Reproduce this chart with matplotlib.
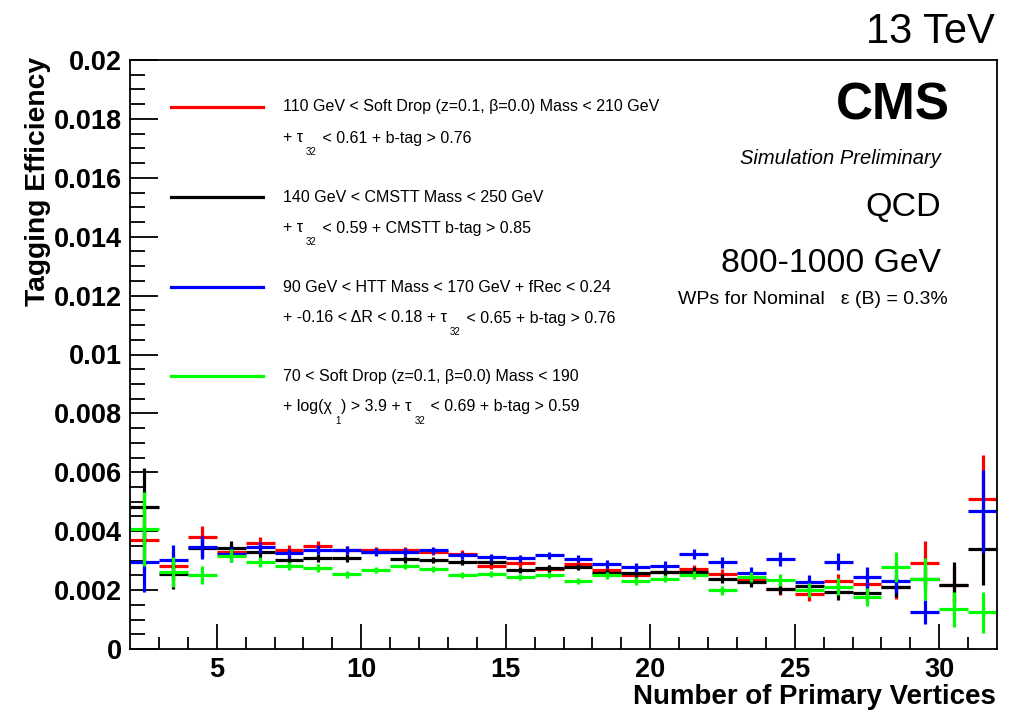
import numpy as np
import matplotlib
matplotlib.use('Agg')
import matplotlib.pyplot as plt

plt.rcParams['font.family'] = ['Liberation Sans', 'DejaVu Sans']

# ---------------------------------------------------------------------------
# DATA (bin centres 2.5 ... 31.5, width 1)
# ---------------------------------------------------------------------------
npv = np.arange(2.5, 32.0, 1.0)

eff_sd = [0.00371, 0.00281, 0.00382, 0.00330, 0.00360, 0.00337, 0.00351, 0.00336,
          0.00336, 0.00336, 0.00330, 0.00324, 0.00282, 0.00291, 0.00273, 0.00288,
          0.00268, 0.00252, 0.00260, 0.00273, 0.00254, 0.00234, 0.00205, 0.00186,
          0.00231, 0.00220, 0.00210, 0.00291, 0.00219, 0.00509]
err_sd = [0.0011, 0.0005, 0.00036, 0.00025, 0.0002, 0.00015, 0.00015, 0.00013,
          0.00012, 0.00012, 0.00012, 0.00012, 0.00012, 0.00012, 0.00012, 0.00012,
          0.00012, 0.00013, 0.00013, 0.00012, 0.00016, 0.00018, 0.0002, 0.00023,
          0.00022, 0.00035, 0.0004, 0.00076, 0.0006, 0.0015]

eff_cmstt = [0.00483, 0.00253, 0.00344, 0.00344, 0.00328, 0.00303, 0.00310, 0.00310,
             0.00330, 0.00305, 0.00302, 0.00296, 0.00296, 0.00268, 0.00274, 0.00279,
             0.00259, 0.00257, 0.00260, 0.00263, 0.00238, 0.00229, 0.00205, 0.00213,
             0.00192, 0.00190, 0.00210, 0.00238, 0.00219, 0.00339]
err_cmstt = [0.0013, 0.0005, 0.0003, 0.00022, 0.00018, 0.00015, 0.00014, 0.00013,
             0.00012, 0.00012, 0.00011, 0.00011, 0.00011, 0.00011, 0.00011, 0.00011,
             0.00012, 0.00012, 0.00013, 0.00014, 0.00015, 0.00017, 0.00019, 0.00022,
             0.00026, 0.0003, 0.00035, 0.0004, 0.00075, 0.0012]

eff_htt = [0.00296, 0.00303, 0.00345, 0.00322, 0.00345, 0.00325, 0.00337, 0.00337,
           0.00330, 0.00330, 0.00336, 0.00319, 0.00311, 0.00308, 0.00319, 0.00307,
           0.00288, 0.00277, 0.00283, 0.00322, 0.00294, 0.00257, 0.00305, 0.00226,
           0.00297, 0.00243, 0.00231, 0.00126, np.nan, 0.00467]
err_htt = [0.00104, 0.0005, 0.00038, 0.00025, 0.0002, 0.00016, 0.00015, 0.00014,
           0.00013, 0.00013, 0.00012, 0.00012, 0.00012, 0.00012, 0.00012, 0.00012,
           0.00013, 0.00014, 0.00015, 0.00016, 0.00018, 0.0002, 0.00024, 0.00026,
           0.0003, 0.00035, 0.0004, 0.0004, np.nan, 0.0014]

eff_sdchi = [0.00407, 0.00261, 0.00251, 0.00316, 0.00295, 0.00282, 0.00274, 0.00253,
             0.00269, 0.00281, 0.00271, 0.00251, 0.00254, 0.00245, 0.00252, 0.00231,
             0.00250, 0.00231, 0.00239, 0.00252, 0.00200, 0.00245, 0.00234, 0.00201,
             0.00212, 0.00177, 0.00279, 0.00238, 0.00135, 0.00124]
err_sdchi = [0.00125, 0.0005, 0.0003, 0.00022, 0.00018, 0.00014, 0.00013, 0.00012,
             0.00011, 0.00011, 0.0001, 0.0001, 0.0001, 0.0001, 0.0001, 0.0001,
             0.00011, 0.00012, 0.00013, 0.00014, 0.00015, 0.00018, 0.0002, 0.00023,
             0.00028, 0.0003, 0.0005, 0.0007, 0.0006, 0.0007]

series = [
    (eff_sd, err_sd, '#ff0000'),
    (eff_cmstt, err_cmstt, '#000000'),
    (eff_htt, err_htt, '#0000ff'),
    (eff_sdchi, err_sdchi, '#00ff00'),
]

# legend texts: each line is a list of (text, subscript) pieces
legend_lines = [
    [[('110 GeV < Soft Drop (z=0.1, β=0.0) Mass < 210 GeV', None)],
     [('+ τ', '32'), (' < 0.61 + b-tag > 0.76', None)]],
    [[('140 GeV < CMSTT Mass < 250 GeV', None)],
     [('+ τ', '32'), (' < 0.59 + CMSTT b-tag > 0.85', None)]],
    [[('90 GeV < HTT Mass < 170 GeV + fRec < 0.24', None)],
     [('+ -0.16 < ΔR < 0.18 + τ', '32'), (' < 0.65 + b-tag > 0.76', None)]],
    [[('70 < Soft Drop (z=0.1, β=0.0) Mass < 190', None)],
     [('+ log(χ', '1'), (') > 3.9 + τ', '32'), (' < 0.69 + b-tag > 0.59', None)]],
]
legend_y = [107, 197, 287, 376]   # pixel rows (from top) of legend entries

W, H = 1018, 714
fig = plt.figure(figsize=(W / 100, H / 100), dpi=100)
ax = fig.add_axes([130 / W, 1 - 649 / H, 867 / W, 589 / H])

for vals, errs, col in series:
    ax.errorbar(npv, vals, xerr=0.5, yerr=errs, fmt='none', ecolor=col,
                elinewidth=2.3, capsize=0)

ax.set_xlim(2, 32)
ax.set_ylim(0, 0.02)
ax.set_xticks([5, 10, 15, 20, 25, 30])
ax.set_xticks(np.arange(3, 32, 1), minor=True)
ax.set_yticks(np.arange(0, 0.0201, 0.002))
ax.set_yticks(np.arange(0, 0.0201, 0.0005), minor=True)
ax.set_yticklabels(['0', '0.002', '0.004', '0.006', '0.008', '0.01', '0.012',
                    '0.014', '0.016', '0.018', '0.02'])
ax.tick_params(which='both', direction='in', top=False, right=False,
               labelsize=19.5, width=1.3)
ax.tick_params(axis='y', which='major', length=20, pad=6)
ax.tick_params(axis='y', which='minor', length=11)
ax.tick_params(axis='x', which='major', length=18, pad=6)
ax.tick_params(axis='x', which='minor', length=9)
for lab in ax.get_xticklabels() + ax.get_yticklabels():
    lab.set_fontweight('bold')
for sp in ax.spines.values():
    sp.set_linewidth(1.3)

fig.text(996 / W, 1 - 697 / H, 'Number of Primary Vertices', ha='right',
         va='center', fontsize=19.9, fontweight='bold')
fig.text(38 / W, 1 - 57 / H, 'Tagging Efficiency', ha='center', va='top',
         rotation=90, fontsize=20.3, fontweight='bold')

fig.text(995 / W, 1 - 32 / H, '13 TeV', ha='right', va='center', fontsize=30)
fig.text(950 / W, 1 - 106 / H, 'CMS', ha='right', va='center', fontsize=37,
         fontweight='bold')
fig.text(941 / W, 1 - 159 / H, 'Simulation Preliminary', ha='right',
         va='center', fontsize=14.5, style='italic')
fig.text(941 / W, 1 - 207 / H, 'QCD', ha='right', va='center', fontsize=24.5)
fig.text(941 / W, 1 - 264 / H, '800-1000 GeV', ha='right', va='center',
         fontsize=24.3)
fig.text(948 / W, 1 - 299 / H, 'WPs for Nominal   ε (B) = 0.3%', ha='right',
         va='center', fontsize=14)

# legend drawn by hand to mimic the ROOT layout
renderer = fig.canvas.get_renderer()
TXT = 11.5


def draw_pieces(x, y, pieces):
    for text, sub in pieces:
        t = fig.text(x / W, 1 - y / H, text, ha='left', va='center', fontsize=TXT)
        x = t.get_window_extent(renderer).x1
        if sub:
            s = fig.text((x + 3) / W, 1 - (y + 14) / H, sub, ha='left',
                         va='center', fontsize=7)
            x = s.get_window_extent(renderer).x1 + 1


for (vals, errs, col), lines, yl in zip(series, legend_lines, legend_y):
    fig.add_artist(plt.Line2D([171 / W, 263 / W], [1 - yl / H, 1 - yl / H],
                              color=col, lw=2.3))
    draw_pieces(283, yl, lines[0])
    draw_pieces(283, yl + 31, lines[1])

fig.savefig('out.png', dpi=100)
